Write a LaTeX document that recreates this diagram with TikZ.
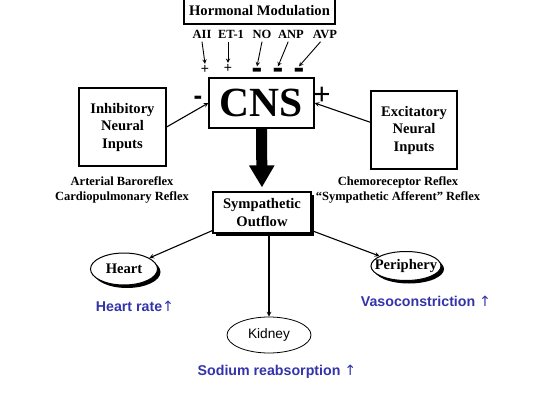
\documentclass[tikz,border=0pt]{standalone}
\usepackage{fontspec}
\setmainfont{Liberation Serif}
\setsansfont{Liberation Sans}
\newfontface\arrowfont{DejaVu Sans}
\usetikzlibrary{arrows.meta, shapes.geometric, shadows}
\definecolor{effectblue}{RGB}{51,51,170}
\newcommand\negsign{\raisebox{-0.19em}{-}}

\begin{document}
\begin{tikzpicture}[>=stealth, x=1pt, y=-1pt,
        txt/.style={font=\bfseries\fontsize{14.6}{17.5}\selectfont},
        reflex/.style={font=\bfseries\fontsize{12.5}{14.5}\selectfont, align=center},
        box/.style={draw, line width=1.2pt, inner sep=0pt, align=center, txt},
        organ/.style={draw, ellipse, line width=1pt, inner sep=0pt},
        shadowed/.style={drop shadow={fill=black, opacity=1, shadow xshift=3pt, shadow yshift=-3pt}},
        effect/.style={font=\sffamily\bfseries\fontsize{14.2}{17}\selectfont, text=effectblue},
        plussign/.style={font=\sffamily\fontsize{14}{14}\selectfont, inner sep=1pt},
        minussign/.style={font=\sffamily\bfseries\fontsize{32}{32}\selectfont, text height=0.13em, text depth=0pt, inner sep=1pt, outer sep=4pt},
        link/.style={->, line width=1.1pt}]
    \useasboundingbox (0,0) rectangle (542,415);

    % hormones
    \node[box, minimum width=151pt, minimum height=26pt] (hormone) at (259.5,11) {Hormonal Modulation};
    \node[reflex] (aii) at (202,34) {AII};
    \node[reflex] (et) at (231,34) {ET-1};
    \node[reflex] (no) at (262,34) {NO};
    \node[reflex] (anp) at (291,34) {ANP};
    \node[reflex] (avp) at (325,34) {AVP};
    \node[plussign] (aiip) at (205,69) {+};
    \node[plussign] (etp) at (228,68) {+};
    \node[minussign] (nom) at (257,72) {\negsign};
    \node[minussign] (anpm) at (278,72) {\negsign};
    \node[minussign] (avpm) at (299,72) {\negsign};
    \draw[->, line width=0.9pt] (aii.south) -- (aiip.north);
    \draw[->, line width=0.9pt] (et.south -| etp) -- (etp.north);
    \draw[->, line width=0.9pt] (no.south) -- (nom.north);
    \draw[->, line width=0.9pt] (anp.250) -- (anpm.north);
    \draw[->, line width=0.9pt] (avp.240) -- (avpm.north);

    % centre
    \node[box, minimum width=105pt, minimum height=50pt, font=\bfseries\fontsize{41.5}{45}\selectfont] (cns) at (261.5,103) {CNS};
    \node[box, minimum width=87pt, minimum height=78pt] (inhib) at (122.5,127) {Inhibitory\\Neural\\Inputs};
    \node[box, minimum width=86pt, minimum height=78pt] (excit) at (414,130) {Excitatory\\Neural\\Inputs};
    \node[minussign, font=\sffamily\bfseries\fontsize{26}{26}\selectfont] (cnsm) at (198,98.5) {\negsign};
    \node[plussign, font=\sffamily\fontsize{30}{30}\selectfont] (cnsp) at (322,96) {+};
    \draw[link] (inhib.east) -- (cns.west);
    \draw[link] (excit.170) -- (cns.east);
    \node[reflex] (baro) at (122,190) {Arterial Baroreflex\\Cardiopulmonary Reflex};
    \node[reflex] (chemo) at (398,190) {Chemoreceptor Reflex\\“Sympathetic Afferent” Reflex};

    % outflow
    \node[box, shadowed, fill=white, minimum width=98pt, minimum height=41pt] (symp) at (262,212.5) {Sympathetic\\Outflow};
    \draw[-{Triangle[length=22pt,width=24pt]}, line width=11pt, shorten >=4pt] (cns.south) -- (symp.north);

    % targets
    \node[organ, shadowed, fill=white, minimum width=67pt, minimum height=32pt, label={[txt]center:Heart}] (heart) at (124,269) {};
    \node[organ, shadowed, fill=white, minimum width=70pt, minimum height=29pt, label={[txt]center:Periphery}] (periph) at (406,266) {};
    \node[organ, line width=0.8pt, minimum width=84pt, minimum height=36pt, label={[font=\sffamily\fontsize{13.7}{16}\selectfont]center:Kidney}] (kidney) at (269,335) {};
    \draw[link] (symp.200) -- (heart);
    \draw[link] (symp.340) -- (periph);
    \draw[link] (symp.south -| kidney.north) -- (kidney.north);
    \node[effect] (hrate) at (135,306) {Heart rate{\arrowfont ↑}};
    \node[effect] (vaso) at (426,301) {Vasoconstriction {\arrowfont ↑}};
    \node[effect] (sodium) at (277,372) {Sodium reabsorption {\arrowfont ↑}};
\end{tikzpicture}
\end{document}
